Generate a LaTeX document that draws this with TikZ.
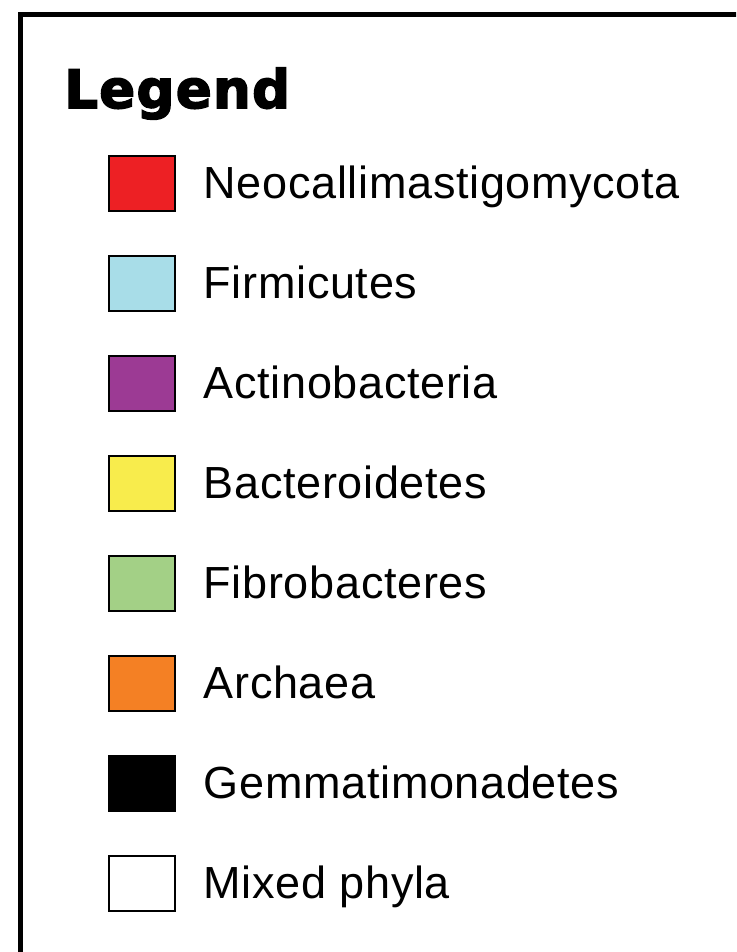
\documentclass[tikz,border=0pt]{standalone}
\usepackage{fontspec}
\setmainfont{Liberation Sans}[LetterSpace=1.5]
\newfontfamily\titlefont[FakeBold=3,LetterSpace=2.5]{DejaVu Sans Bold}
\usetikzlibrary{positioning}
\definecolor{neored}{HTML}{ED2024}
\definecolor{firmblue}{HTML}{A8DDE8}
\definecolor{actipurple}{HTML}{9C3A94}
\definecolor{bactyellow}{HTML}{F8EC4C}
\definecolor{fibrogreen}{HTML}{A3D086}
\definecolor{archorange}{HTML}{F48024}

\begin{document}
\begin{tikzpicture}[x=1pt,y=1pt,node distance=42.8pt,
   swatch/.style={draw,line width=2.2pt,minimum width=66pt,minimum height=55pt,inner sep=0pt},
   entry/.style={font=\fontsize{45}{54}\selectfont,inner sep=0pt,text height=30pt,text depth=0pt}]
  \useasboundingbox (0,0) rectangle (736,-952);
  \clip (0,0) rectangle (736,-952);
  % frame, cut off at the right and bottom
  \draw[line width=5pt] (20.5,-14.5) rectangle (800,-1000);
  \node[font=\titlefont\fontsize{53}{60}\selectfont,anchor=base west,inner sep=0pt] (title) at (64,-108) {Legend};
  % colour keys
  \node[swatch,fill=neored] (s1) at (142,-183.5) {};
  \node[swatch,fill=firmblue] (s2) [below=of s1] {};
  \node[swatch,fill=actipurple] (s3) [below=of s2] {};
  \node[swatch,fill=bactyellow] (s4) [below=of s3] {};
  \node[swatch,fill=fibrogreen] (s5) [below=of s4] {};
  \node[swatch,fill=archorange] (s6) [below=of s5] {};
  \node[swatch,fill=black] (s7) [below=of s6] {};
  \node[swatch,fill=white] (s8) [below=of s7] {};
  \node[entry] (l1) [right=27.5pt of s1] {Neocallimastigomycota};
  \node[entry] (l2) [right=27.5pt of s2] {Firmicutes};
  \node[entry] (l3) [right=27.5pt of s3] {Actinobacteria};
  \node[entry] (l4) [right=27.5pt of s4] {Bacteroidetes};
  \node[entry] (l5) [right=27.5pt of s5] {Fibrobacteres};
  \node[entry] (l6) [right=27.5pt of s6] {Archaea};
  \node[entry] (l7) [right=27.5pt of s7] {Gemmatimonadetes};
  \node[entry] (l8) [right=27.5pt of s8] {Mixed phyla};
\end{tikzpicture}
\end{document}
